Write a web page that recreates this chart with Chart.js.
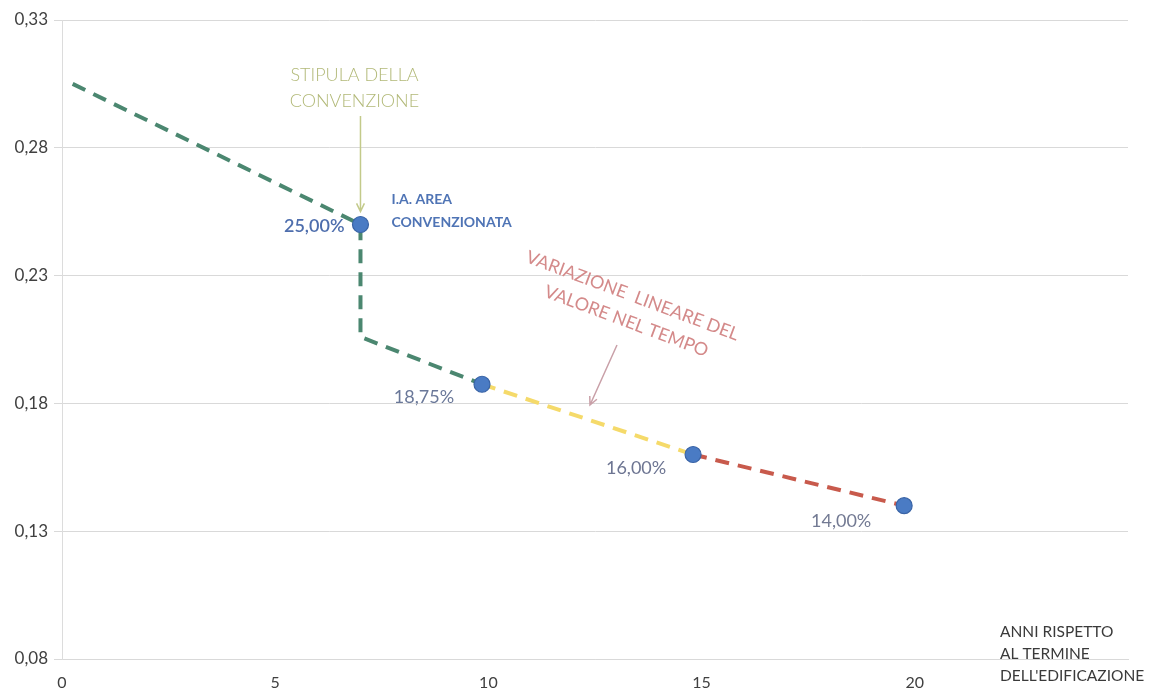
<!DOCTYPE html>
<html>
<head>
<meta charset="utf-8">
<script src="https://cdn.jsdelivr.net/npm/chart.js@4.4.1/dist/chart.umd.min.js"></script>
<style>
  html, body { margin: 0; padding: 0; background: #ffffff; }
  #wrap { width: 1152px; height: 688px; position: relative; }
</style>
</head>
<body>
<div id="wrap"><canvas id="c"></canvas></div>
<script>
// Asse X: anni rispetto al termine dell'edificazione
const xTicks = [0, 5, 10, 15, 20, 25];
// Asse Y: indice di fabbricabilità
const yTicks = [0.08, 0.13, 0.18, 0.23, 0.28, 0.33];

// Punti notevoli con etichetta percentuale
const keyYears = [7, 9.85, 14.8, 19.75];
const keyValues = [0.25, 0.1875, 0.16, 0.14];

// Tratto verde: prima della stipula e salto alla convenzione
const greenYears = [0.25, 7, 7, 9.85];
const greenValues = [0.305, 0.25, 0.206, 0.1875];
// Tratto giallo
const yellowYears = [9.85, 14.8];
const yellowValues = [0.1875, 0.16];
// Tratto rosso
const redYears = [14.8, 19.75];
const redValues = [0.16, 0.14];

const FONT = "Lato, 'Open Sans', 'DejaVu Sans', sans-serif";

const toXY = (xs, ys) => xs.map((x, i) => ({ x: x, y: ys[i] }));
const fmtPct = v => (v * 100).toFixed(2).replace('.', ',') + '%';
const fmtNum = v => v.toFixed(2).replace('.', ',');

function dashed(xs, ys, color) {
  return {
    data: toXY(xs, ys),
    showLine: true,
    borderColor: color,
    borderWidth: 4,
    borderDash: [14, 9],
    pointRadius: 0,
    fill: false,
    order: 2
  };
}

// Etichette dei valori accanto ai punti
const valueLabels = {
  id: 'valueLabels',
  afterDatasetsDraw(chart) {
    const ctx = chart.ctx;
    const meta = chart.getDatasetMeta(3);
    const styles = [
      { dx: -16, dy: 2, align: 'right', weight: '600', color: '#4e6ead' },
      { dx: -58, dy: 13, align: 'center', weight: '400', color: '#6a7899' },
      { dx: -57, dy: 14, align: 'center', weight: '400', color: '#6d7592' },
      { dx: -63, dy: 16, align: 'center', weight: '400', color: '#737a93' }
    ];
    ctx.save();
    ctx.textBaseline = 'middle';
    meta.data.forEach((pt, i) => {
      const s = styles[i];
      ctx.font = s.weight + ' 18px ' + FONT;
      ctx.fillStyle = s.color;
      ctx.textAlign = s.align;
      ctx.fillText(fmtPct(keyValues[i]), pt.x + s.dx, pt.y + s.dy);
    });
    ctx.restore();
  }
};

function arrow(ctx, x1, y1, x2, y2, color) {
  const a = Math.atan2(y2 - y1, x2 - x1);
  ctx.save();
  ctx.strokeStyle = color;
  ctx.lineWidth = 1.5;
  ctx.beginPath();
  ctx.moveTo(x1, y1);
  ctx.lineTo(x2, y2);
  ctx.moveTo(x2 - 9 * Math.cos(a - 0.45), y2 - 9 * Math.sin(a - 0.45));
  ctx.lineTo(x2, y2);
  ctx.lineTo(x2 - 9 * Math.cos(a + 0.45), y2 - 9 * Math.sin(a + 0.45));
  ctx.stroke();
  ctx.restore();
}

// Note descrittive, frecce e titolo dell'asse
const notes = {
  id: 'notes',
  afterDraw(chart) {
    const ctx = chart.ctx;
    const pts = chart.getDatasetMeta(3).data;
    const p0 = pts[0];

    ctx.save();
    ctx.textBaseline = 'middle';

    // Stipula della convenzione
    ctx.font = '300 18px ' + FONT;
    ctx.fillStyle = '#b2b978';
    ctx.textAlign = 'center';
    ctx.fillText('STIPULA DELLA', p0.x - 6, 75);
    ctx.fillText('CONVENZIONE', p0.x - 6, 101);
    arrow(ctx, p0.x, 116, p0.x, p0.y - 13, '#c3ca8a');

    // I.A. area convenzionata
    ctx.font = '700 14px ' + FONT;
    ctx.fillStyle = '#4f74b5';
    ctx.textAlign = 'left';
    ctx.fillText('I.A. AREA', p0.x + 31, 199);
    ctx.fillText('CONVENZIONATA', p0.x + 31, 222);

    // Variazione lineare del valore nel tempo
    ctx.save();
    ctx.translate(628, 308);
    ctx.rotate(20.5 * Math.PI / 180);
    ctx.font = '400 18px ' + FONT;
    ctx.fillStyle = '#d48a8a';
    ctx.textAlign = 'center';
    ctx.fillText('VARIAZIONE  LINEARE DEL', 0, -13);
    ctx.fillText('VALORE NEL TEMPO', 3, 13);
    ctx.restore();
    arrow(ctx, 617, 345, 590, 405, '#c9a0a8');

    // Titolo asse X
    ctx.font = '400 15.5px ' + FONT;
    ctx.fillStyle = '#3a3a3a';
    ctx.textAlign = 'left';
    ctx.fillText('ANNI RISPETTO', 1000, 632);
    ctx.fillText('AL TERMINE', 1000, 654);
    ctx.fillText("DELL'EDIFICAZIONE", 1000, 676);

    ctx.restore();
  }
};

new Chart(document.getElementById('c'), {
  type: 'scatter',
  data: {
    datasets: [
      dashed(greenYears, greenValues, '#4b8770'),
      dashed(yellowYears, yellowValues, '#f5da6a'),
      dashed(redYears, redValues, '#c85a4c'),
      {
        data: toXY(keyYears, keyValues),
        showLine: false,
        pointRadius: 8,
        pointHoverRadius: 8,
        pointBackgroundColor: '#4a7bc4',
        pointBorderColor: '#3a64a6',
        pointBorderWidth: 1.2,
        order: 0
      }
    ]
  },
  options: {
    responsive: true,
    maintainAspectRatio: false,
    animation: false,
    events: [],
    layout: { padding: { top: 20, right: 24, left: 0, bottom: 0 } },
    plugins: {
      legend: { display: false },
      tooltip: { enabled: false }
    },
    scales: {
      x: {
        type: 'linear',
        min: xTicks[0],
        max: xTicks[xTicks.length - 1],
        afterBuildTicks: s => { s.ticks = xTicks.map(v => ({ value: v })); },
        afterFit: s => { s.height = 29; },
        grid: { display: false, drawTicks: false },
        border: { display: true, color: '#d9d9d9', width: 1 },
        ticks: {
          autoSkip: false,
          maxRotation: 0,
          padding: 14,
          color: '#404040',
          font: { family: FONT, size: 16 },
          callback: v => (v === 25 ? '' : String(v))
        }
      },
      y: {
        type: 'linear',
        min: yTicks[0],
        max: yTicks[yTicks.length - 1],
        afterBuildTicks: s => { s.ticks = yTicks.map(v => ({ value: v })); },
        afterFit: s => { s.width = 62; },
        grid: {
          color: '#d9d9d9',
          lineWidth: 1,
          drawTicks: true,
          tickLength: 8,
          tickColor: '#d9d9d9'
        },
        border: { display: true, color: '#dcdcdc', width: 1 },
        ticks: {
          autoSkip: false,
          padding: 6,
          color: '#404040',
          font: { family: FONT, size: 17 },
          callback: v => fmtNum(v)
        }
      }
    }
  },
  plugins: [valueLabels, notes]
});
</script>
</body>
</html>
